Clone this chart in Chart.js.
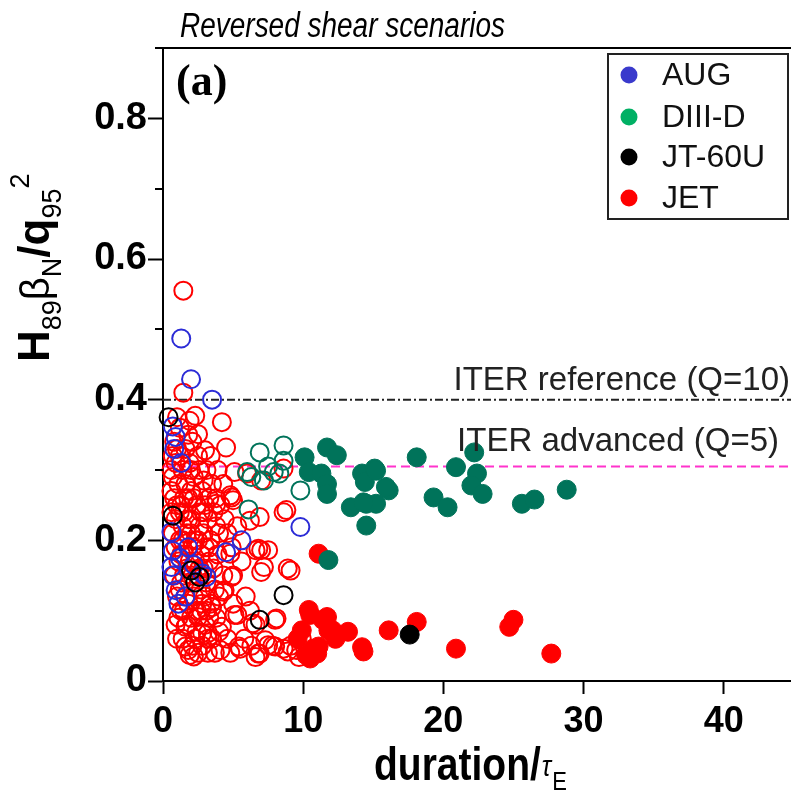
<!DOCTYPE html>
<html>
<head>
<meta charset="utf-8">
<script src="https://cdn.jsdelivr.net/npm/chart.js@4.4.1/dist/chart.umd.min.js"></script>
<style>
  html, body { margin: 0; padding: 0; background: #fff; }
  canvas { display: block; }
</style>
</head>
<body>
<canvas id="c" width="791" height="795"></canvas>
<script>
// Axis ticks
const xTicks = [0, 10, 20, 30, 40];
const yTicks = [0, 0.2, 0.4, 0.6, 0.8];
const yMinorTicks = [0.1, 0.3, 0.5, 0.7, 0.9];

// ITER operating points
const iterRefLevel = 0.4;
const iterAdvLevel = 0.305;
const iterRefLabel = 'ITER reference (Q=10)';
const iterAdvLabel = 'ITER advanced (Q=5)';

// Legend
const legendNames = ['AUG', 'DIII-D', 'JT-60U', 'JET'];

// [duration/tauE, H89*betaN/q95^2]
const augOpen = [
  [1.3,0.487],[2.0,0.429],[3.5,0.400],[0.7,0.362],[0.9,0.347],[0.8,0.330],[1.3,0.310],
  [0.6,0.212],[0.6,0.162],[0.9,0.129],[1.1,0.110],[1.6,0.120],[2.8,0.153],[3.1,0.148],
  [0.7,0.150],[4.5,0.183],[5.6,0.200],[9.8,0.219],[1.8,0.190],[1.2,0.175],[0.7,0.185],[2.2,0.165]
];

const diiidOpen = [
  [6.9,0.325],[8.6,0.335],[8.6,0.313],[6.0,0.297],[6.3,0.290],[7.2,0.285],[8.3,0.295],
  [9.8,0.271],[6.1,0.244],[7.9,0.297],[7.5,0.305]
];

const diiidFilled = [
  [10.1,0.318],[10.4,0.297],[11.3,0.295],[11.7,0.332],[12.4,0.321],[11.7,0.280],[11.7,0.266],
  [11.8,0.172],[13.4,0.247],[14.2,0.295],[14.4,0.283],[15.1,0.302],[15.2,0.299],[16.1,0.271],
  [15.9,0.276],[14.5,0.252],[15.2,0.252],[14.3,0.254],[14.5,0.221],[18.1,0.318],[19.3,0.261],
  [20.3,0.247],[20.9,0.304],[22.2,0.325],[22.4,0.295],[22.0,0.278],[22.8,0.266],[25.6,0.252],
  [26.5,0.258],[28.8,0.272]
];

const jt60uOpen = [
  [0.4,0.375],[0.7,0.235],[2.0,0.157],[2.6,0.148],[8.6,0.122],[6.9,0.087],[2.3,0.140]
];

const jt60uFilled = [[17.6,0.066]];

const jetFilled = [
  [11.1,0.181],[9.9,0.072],[10.4,0.101],[10.5,0.094],[11.4,0.087],[11.7,0.091],[11.8,0.072],
  [12.1,0.072],[10.7,0.046],[11.1,0.049],[11.0,0.039],[10.2,0.037],[10.5,0.032],[9.6,0.060],
  [12.3,0.060],[13.2,0.070],[14.3,0.042],[14.2,0.048],[16.1,0.072],[18.1,0.084],[20.9,0.046],
  [24.7,0.077],[25.0,0.087],[27.7,0.039]
];

const jetOpen = [
  [1.45,0.555],[1.45,0.410],[2.3,0.377],[4.2,0.368],[2.5,0.351],[4.5,0.332],[3.0,0.328],
  [2.9,0.285],[5.1,0.297],[6.0,0.295],[4.9,0.261],[3.8,0.252],[5.0,0.257],[4.8,0.264],
  [6.2,0.228],[8.8,0.243],[8.6,0.240],[6.8,0.188],[7.2,0.162],[8.9,0.160],[5.0,0.150],
  [4.3,0.127],[5.3,0.094],[8.1,0.089],[6.4,0.082],[5.5,0.046],[4.1,0.044],[1.6,0.049],
  [1.9,0.037],[2.8,0.068],[7.5,0.051],[8.6,0.046],[6.9,0.039],[9.5,0.044],[7.0,0.186],
  [7.5,0.186],[9.1,0.157],[8.0,0.087],[6.9,0.233],[8.6,0.302],[7.0,0.285],[7.3,0.058],
  [8.0,0.049],[8.9,0.042],[9.7,0.034],[6.8,0.039],[6.6,0.186],[7.0,0.155],[4.9,0.148],
  [4.4,0.129],[5.1,0.094],[4.2,0.077],[1.8,0.044],[5.4,0.049],[6.6,0.034],[3.2,0.068],
  [2.5,0.091],[1.6,0.077],[3.5,0.105],[4.8,0.181],
  [0.8,0.340],[1.2,0.360],[1.6,0.330],[2.1,0.340],[0.9,0.310],[1.4,0.300],[1.9,0.310],
  [2.5,0.320],[3.1,0.300],[0.7,0.290],[1.1,0.280],[1.6,0.280],[2.2,0.290],[2.8,0.270],
  [3.5,0.280],[0.8,0.260],[1.3,0.250],[1.8,0.260],[2.4,0.250],[3.0,0.250],[3.6,0.240],
  [4.1,0.250],[0.9,0.230],[1.4,0.220],[2.0,0.230],[2.6,0.220],[3.2,0.230],[3.8,0.220],
  [4.4,0.230],[0.7,0.210],[1.2,0.200],[1.7,0.210],[2.3,0.200],[2.9,0.210],[3.4,0.200],
  [4.0,0.210],[0.9,0.190],[1.5,0.180],[2.1,0.190],[2.7,0.180],[3.3,0.190],[3.9,0.180],
  [1.1,0.170],[1.7,0.160],[2.3,0.170],[2.9,0.160],[3.6,0.160],[0.8,0.150],[1.3,0.140],
  [1.9,0.140],[2.5,0.150],[3.1,0.140],[3.7,0.130],[1.0,0.120],[1.6,0.120],[2.2,0.120],
  [2.8,0.110],[3.4,0.110],[1.3,0.100],[2.0,0.090],[2.7,0.100],[3.3,0.090],[1.7,0.080],
  [2.4,0.070],[3.0,0.080],[3.8,0.090],[1.4,0.060],[2.1,0.050],[2.8,0.050],[3.5,0.060],
  [4.6,0.060],[2.5,0.040],[3.2,0.040],[4.8,0.040],[5.8,0.060],[6.3,0.050],[1.2,0.240],
  [2.7,0.240],[1.5,0.260],[2.0,0.270],[0.6,0.270],[1.0,0.375],[1.9,0.370],[0.7,0.320],
  [3.8,0.260],[4.6,0.210],[5.3,0.220],[4.9,0.190],[5.6,0.170],[4.3,0.150],[5.9,0.120],
  [6.2,0.100],[6.6,0.080],[7.8,0.050],[9.1,0.050],[9.9,0.060],[5.0,0.110],[4.0,0.120],[3.0,0.120],
  [1.0,0.330],[1.8,0.350],[2.6,0.300],[1.2,0.320],[2.0,0.300],[1.5,0.240],[2.2,0.260],
  [2.9,0.240],[1.0,0.250],[1.8,0.230],[2.5,0.200],[3.0,0.190],[1.4,0.200],[2.0,0.210],
  [1.3,0.180],[1.9,0.170],[2.6,0.160],[3.3,0.170],[1.5,0.150],[2.1,0.150],[2.7,0.130],
  [1.2,0.130],[1.8,0.110],[2.4,0.100],[3.1,0.100],[1.1,0.090],[1.5,0.100],[2.3,0.060],
  [3.2,0.060],[4.0,0.070],[3.7,0.040],[2.2,0.035],[0.9,0.080],[1.0,0.060],[0.6,0.240],
  [0.6,0.300],[3.4,0.320],[3.9,0.300],[4.3,0.280],[3.3,0.260]
];

const toPts = arr => arr.map(p => ({ x: p[0], y: p[1] }));

const COL = {
  aug: '#2b2bd6',
  augLegend: '#3a3acc',
  diiid: '#00735a',
  diiidLegend: '#00b064',
  jt: '#000000',
  jet: '#ff0000',
  iterRef: '#222222',
  iterAdv: '#ff33cc'
};

const FONT = '"Liberation Sans", Arial, Helvetica, sans-serif';

function openSet(label, data, color) {
  return {
    label, data: toPts(data), showLine: false, clip: false,
    pointStyle: 'circle', pointRadius: 9, pointBorderWidth: 2,
    pointBorderColor: color, pointBackgroundColor: 'rgba(0,0,0,0)'
  };
}
function filledSet(label, data, color) {
  return {
    label, data: toPts(data), showLine: false, clip: false,
    pointStyle: 'circle', pointRadius: 9.5, pointBorderWidth: 1,
    pointBorderColor: color, pointBackgroundColor: color
  };
}
function levelLine(label, level, color, dash) {
  return {
    type: 'line', label, clip: false,
    data: [{ x: 0, y: level }, { x: 44.8, y: level }],
    borderColor: color, borderWidth: 2, borderDash: dash,
    pointRadius: 0, fill: false
  };
}

// text drawn at a given width with an optional vertical stretch
function drawFitted(ctx, text, font, x, base, width, yScale) {
  ctx.save();
  ctx.font = font;
  const w = ctx.measureText(text).width;
  ctx.translate(x, base);
  ctx.scale(width / w, yScale);
  ctx.fillText(text, 0, 0);
  ctx.restore();
}

// Minor ticks, top frame, titles, legend and line annotations
const decorations = {
  id: 'decorations',
  afterDraw(chart) {
    const { ctx, chartArea: a, scales: { y } } = chart;
    ctx.save();

    // minor y ticks
    ctx.strokeStyle = '#000';
    ctx.lineWidth = 2;
    yMinorTicks.forEach(v => {
      const py = Math.round(y.getPixelForValue(v));
      ctx.beginPath();
      ctx.moveTo(a.left - 8, py);
      ctx.lineTo(a.left, py);
      ctx.stroke();
    });
    // top frame
    const pt = Math.round(y.getPixelForValue(0.9));
    ctx.beginPath();
    ctx.moveTo(a.left - 8, pt);
    ctx.lineTo(chart.width, pt);
    ctx.stroke();

    // chart title
    ctx.fillStyle = '#000';
    ctx.textBaseline = 'alphabetic';
    ctx.textAlign = 'left';
    drawFitted(ctx, 'Reversed shear scenarios', 'italic 31px ' + FONT, 180, 37, 325, 1.12);

    // panel tag
    ctx.font = 'bold 44px "Liberation Serif", "Times New Roman", serif';
    ctx.fillText('(a)', 176, 95);

    // ITER level annotations
    ctx.fillStyle = '#222';
    ctx.font = '33px ' + FONT;
    ctx.textAlign = 'right';
    ctx.fillText(iterRefLabel, 790, y.getPixelForValue(iterRefLevel) - 10);
    ctx.fillText(iterAdvLabel, 779, y.getPixelForValue(iterAdvLevel) - 15);

    // legend
    ctx.lineWidth = 2;
    ctx.strokeStyle = '#222';
    ctx.strokeRect(608, 54, 180, 165);
    const lc = [COL.augLegend, COL.diiidLegend, COL.jt, COL.jet];
    const rows = [75, 117, 157, 198];
    ctx.textAlign = 'left';
    ctx.textBaseline = 'middle';
    ctx.font = '32px ' + FONT;
    legendNames.forEach((n, i) => {
      ctx.fillStyle = lc[i];
      ctx.beginPath();
      ctx.arc(629, rows[i], 8.5, 0, Math.PI * 2);
      ctx.fill();
      ctx.fillStyle = '#111';
      ctx.fillText(n, 662, rows[i] + 1);
    });

    // x axis title: duration/tauE
    ctx.textBaseline = 'alphabetic';
    ctx.fillStyle = '#000';
    const xParts = [
      { t: 'duration/', f: 'bold 39px ' + FONT, dy: 0 },
      { t: 'τ', f: 'italic 25px ' + FONT, dy: -3 },
      { t: 'E', f: '22px ' + FONT, dy: 8 }
    ];
    ctx.save();
    ctx.translate(374, 780);
    ctx.scale(1, 1.2);
    let cx = 0;
    xParts.forEach(p => { ctx.font = p.f; ctx.fillText(p.t, cx, p.dy); cx += ctx.measureText(p.t).width + 1; });
    ctx.restore();

    // y axis title: H89 betaN / q95^2
    const yParts = [
      { t: 'H', f: 'bold 44px ' + FONT, dy: 0 },
      { t: '89', f: '27px ' + FONT, dy: 12 },
      { t: 'β', f: '40px ' + FONT, dy: 0 },
      { t: 'N', f: '27px ' + FONT, dy: 12 },
      { t: '/q', f: 'bold 44px ' + FONT, dy: 0 },
      { t: '95', f: '27px ' + FONT, dy: 12 },
      { t: '2', f: '27px ' + FONT, dy: -20 }
    ];
    ctx.translate(49, 0);
    ctx.rotate(-Math.PI / 2);
    let sx = -362;
    yParts.forEach(p => {
      ctx.font = p.f;
      ctx.fillText(p.t, sx, p.dy);
      sx += ctx.measureText(p.t).width;
    });

    ctx.restore();
  }
};

new Chart(document.getElementById('c'), {
  type: 'scatter',
  data: {
    datasets: [
      filledSet('DIII-D', diiidFilled, COL.diiid),
      filledSet('JT-60U', jt60uFilled, COL.jt),
      filledSet('JET', jetFilled, COL.jet),
      openSet('JT-60U open', jt60uOpen, COL.jt),
      openSet('AUG', augOpen, COL.aug),
      openSet('DIII-D open', diiidOpen, COL.diiid),
      openSet('JET open', jetOpen, COL.jet),
      levelLine(iterAdvLabel, iterAdvLevel, COL.iterAdv, [9, 5]),
      levelLine(iterRefLabel, iterRefLevel, COL.iterRef, [8, 3, 2, 3])
    ]
  },
  options: {
    responsive: false,
    animation: false,
    events: [],
    layout: { autoPadding: false, padding: { top: 48, right: 0, left: 0, bottom: 0 } },
    plugins: { legend: { display: false }, tooltip: { enabled: false } },
    scales: {
      x: {
        type: 'linear', min: 0, max: 44.8,
        afterBuildTicks: s => { s.ticks = xTicks.map(v => ({ value: v })); },
        afterFit: s => { s.height = 795 - 681; s.paddingLeft = 0; s.paddingRight = 0; },
        grid: { display: true, drawOnChartArea: false, drawTicks: true, tickLength: 13, tickWidth: 2, tickColor: '#000' },
        border: { display: true, width: 2, color: '#000' },
        ticks: { color: '#000', padding: 6, maxRotation: 0, font: { family: FONT, size: 36, weight: 'bold' }, callback: v => String(v) }
      },
      y: {
        type: 'linear', min: 0, max: 0.9,
        afterBuildTicks: s => { s.ticks = yTicks.map(v => ({ value: v })); },
        afterFit: s => { s.width = 163; s.paddingTop = 0; s.paddingBottom = 0; },
        grid: { display: true, drawOnChartArea: false, drawTicks: true, tickLength: 15, tickWidth: 2, tickColor: '#000' },
        border: { display: true, width: 2, color: '#000' },
        ticks: { color: '#000', padding: 1, font: { family: FONT, size: 38, weight: 'bold' }, callback: v => String(+v.toFixed(1)) }
      }
    }
  },
  plugins: [decorations]
});
</script>
</body>
</html>
